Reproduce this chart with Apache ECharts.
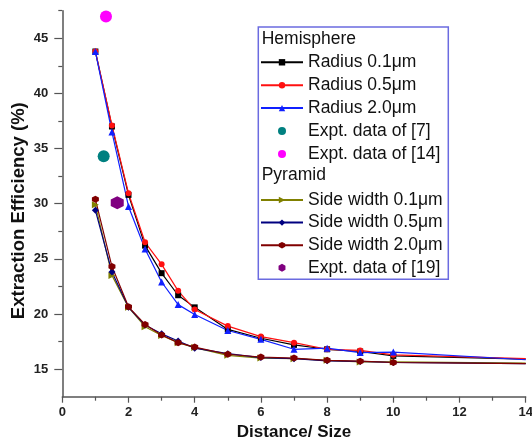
<!DOCTYPE html>
<html><head><meta charset="utf-8">
<script src="https://cdn.jsdelivr.net/npm/echarts@6/dist/echarts.min.js"></script>
<style>html,body{margin:0;padding:0;background:#fff}#c{width:532px;height:441px}</style>
</head><body><div id="c"></div>
<script>
// ---- data ----
const distance = [1, 1.5, 2, 2.5, 3, 3.5, 4, 5, 6, 7, 8, 9, 10, 14];
const hemiR01 = [43.8, 37.0, 30.8, 26.2, 23.7, 21.7, 20.6, 18.6, 17.8, 17.2, 16.8, 16.6, 16.2, 15.9];
const hemiR05 = [43.8, 37.1, 30.95, 26.5, 24.5, 22.1, 20.4, 18.9, 17.95, 17.4, 16.8, 16.7, 16.3, 15.95];
const hemiR20 = [43.8, 36.5, 29.75, 25.9, 22.9, 20.85, 19.95, 18.5, 17.7, 16.8, 16.9, 16.5, 16.55, 15.85];
const pyrS01 = [29.9, 23.5, 20.6, 18.85, 18.05, 17.4, 16.95, 16.25, 16.0, 15.95, 15.8, 15.65, 15.65, 15.55];
const pyrS05 = [29.4, 23.8, 20.6, 19.0, 18.2, 17.55, 16.9, 16.4, 16.05, 15.95, 15.75, 15.7, 15.6, 15.5];
const pyrS20 = [30.4, 24.3, 20.65, 19.05, 18.1, 17.4, 17.0, 16.35, 16.1, 16.0, 15.8, 15.72, 15.6, 15.5];
const expt7 = [[1.25, 34.3]];
const expt14 = [[1.32, 46.97]];
const expt19 = [[1.66, 30.09]];
const xTickLabels = [0, 2, 4, 6, 8, 10, 12, 14];
const yMajorTicks = [15, 20, 25, 30, 35, 40, 45];
const yMinorTicks = [17.5, 22.5, 27.5, 32.5, 37.5, 42.5, 47.5];
const namesHemi = ['Radius 0.1\u03bcm', 'Radius 0.5\u03bcm', 'Radius 2.0\u03bcm', 'Expt. data of [7]', 'Expt. data of [14]'];
const namesPyr = ['Side width 0.1\u03bcm', 'Side width 0.5\u03bcm', 'Side width 2.0\u03bcm', 'Expt. data of [19]'];

const FONT = 'Arial, "Liberation Sans", sans-serif';
const HEX = 'path://M0,-10 L8.66,-5 L8.66,5 L0,10 L-8.66,5 L-8.66,-5 Z';

function pts(ys) {
  return distance.map((x, i) => i === distance.length - 1
    ? { value: [x, ys[i]], symbol: 'none' }
    : [x, ys[i]]);
}
function lineSeries(name, ys, color, symbol, size, rotate) {
  return {
    name, type: 'line', data: pts(ys), symbol, symbolSize: size,
    symbolRotate: rotate || 0,
    lineStyle: { color, width: 1.2 }, itemStyle: { color },
    emphasis: { disabled: true }, animation: false
  };
}
function scatterSeries(name, d, color, symbol, size) {
  return { name, type: 'scatter', data: d, symbol, symbolSize: size,
    itemStyle: { color, opacity: 1 }, emphasis: { disabled: true }, animation: false };
}

const chart = echarts.init(document.getElementById('c'), null, { renderer: 'canvas' });
chart.setOption({
  animation: false,
  backgroundColor: '#fff',
  grid: { left: 62.3, right: 6.3, top: 10.7, bottom: 44.3, containLabel: false, outerBoundsMode: 'none' },
  xAxis: {
    type: 'value', min: 0, max: 14, interval: 2,
    name: 'Distance/ Size', nameLocation: 'middle', nameGap: 27, nameMoveOverlap: false,
    nameTextStyle: { fontFamily: FONT, fontWeight: 'bold', fontSize: 17, color: '#111' },
    axisLine: { lineStyle: { color: '#555', width: 1.5 } },
    axisTick: { show: true, length: 6, lineStyle: { color: '#555', width: 1.2 } },
    minorTick: { show: true, splitNumber: 2, length: 4, lineStyle: { color: '#555', width: 1.2 } },
    splitLine: { show: false },
    axisLabel: { fontFamily: FONT, fontWeight: 'bold', fontSize: 13, color: '#222', margin: 9,
      formatter: v => xTickLabels.includes(v) ? String(v) : '' }
  },
  yAxis: [{
    type: 'value', min: 12.5, max: 47.5, interval: 2.5,
    name: 'Extraction Efficiency (%)', nameLocation: 'middle', nameGap: 34, nameMoveOverlap: false,
    nameTextStyle: { fontFamily: FONT, fontWeight: 'bold', fontSize: 18.5, color: '#111', padding: [0, 14, 0, 0] },
    axisLine: { show: true, lineStyle: { color: '#555', width: 1.5 } },
    axisTick: { show: true, length: 8, customValues: yMajorTicks, lineStyle: { color: '#555', width: 1.2 } },
    splitLine: { show: false },
    axisLabel: { fontFamily: FONT, fontWeight: 'bold', fontSize: 13, color: '#222', margin: 14,
      customValues: yMajorTicks,
      formatter: v => yMajorTicks.includes(v) ? String(v) : '' }
  }, {
    type: 'value', min: 12.5, max: 47.5, interval: 2.5, position: 'left',
    axisLine: { show: false },
    axisTick: { show: true, length: 4, customValues: yMinorTicks, lineStyle: { color: '#555', width: 1.2 } },
    axisLabel: { show: false }, splitLine: { show: false }
  }],
  legend: [{
    orient: 'vertical', left: 260, top: 53.3, padding: 0,
    itemWidth: 42, itemHeight: 8, itemGap: 4.9, selectedMode: false, z: 6,
    textStyle: { fontFamily: FONT, fontSize: 17.5, lineHeight: 18, color: '#111' },
    data: namesHemi.map((n, i) => i < 3 ? { name: n } : { name: n, icon: 'circle' })
  }, {
    orient: 'vertical', left: 260, top: 191, padding: 0,
    itemWidth: 42, itemHeight: 8, itemGap: 4.6, selectedMode: false, z: 6,
    textStyle: { fontFamily: FONT, fontSize: 17.5, lineHeight: 18, color: '#111' },
    data: namesPyr.map((n, i) => i < 3 ? { name: n } : { name: n, icon: HEX })
  }],
  graphic: [
    { type: 'rect', z: 5, shape: { x: 258.3, y: 27, width: 190, height: 252.3 },
      style: { fill: '#fff', stroke: '#6b6be0', lineWidth: 1.5 } },
    { type: 'text', z: 7, left: 261.7, top: 30, style: { text: 'Hemisphere', font: '17.5px ' + FONT, fill: '#111' } },
    { type: 'text', z: 7, left: 261.7, top: 166.5, style: { text: 'Pyramid', font: '17.5px ' + FONT, fill: '#111' } }
  ],
  series: [
    lineSeries(namesHemi[0], hemiR01, '#000000', 'rect', 6),
    lineSeries(namesHemi[1], hemiR05, '#ff1010', 'circle', 6),
    lineSeries(namesHemi[2], hemiR20, '#1020ff', 'triangle', 7),
    scatterSeries(namesHemi[3], expt7, '#008080', 'circle', 12),
    scatterSeries(namesHemi[4], expt14, '#ff00ff', 'circle', 12),
    lineSeries(namesPyr[0], pyrS01, '#808000', 'triangle', 7, -90),
    lineSeries(namesPyr[1], pyrS05, '#000080', 'diamond', 7),
    lineSeries(namesPyr[2], pyrS20, '#800000', HEX, 7),
    scatterSeries(namesPyr[3], expt19, '#800080', HEX, 13)
  ]
});
</script>
</body></html>
